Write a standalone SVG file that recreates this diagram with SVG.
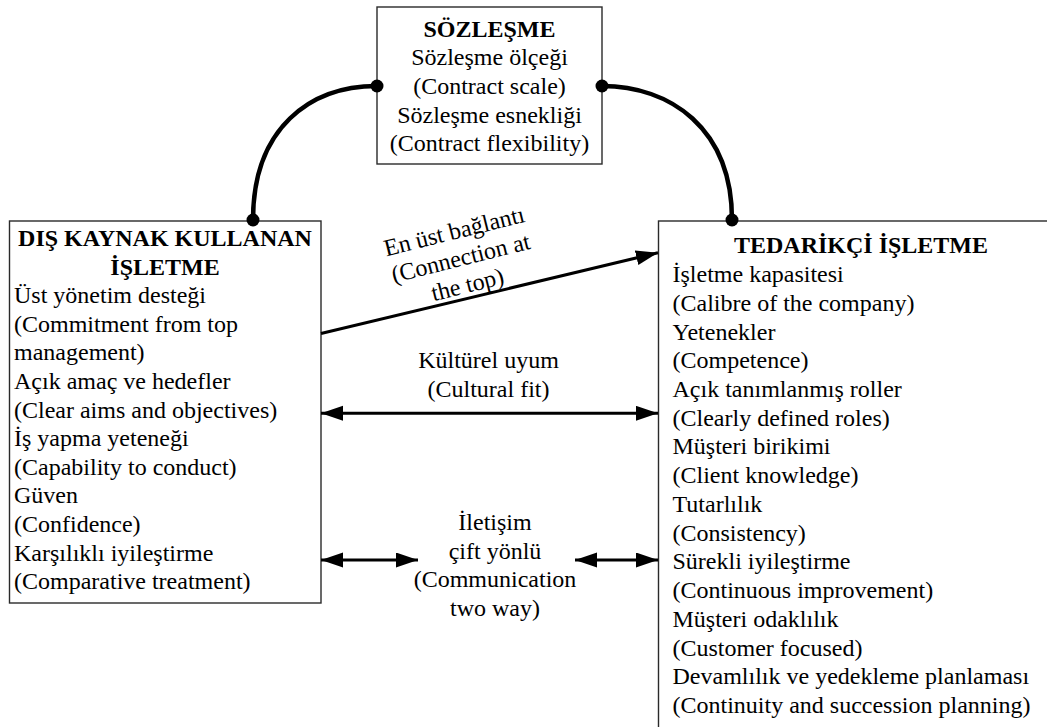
<svg xmlns="http://www.w3.org/2000/svg" width="1047" height="727" viewBox="0 0 1047 727">
  <style>
    .box { fill: #ffffff; stroke: #2a2a2a; stroke-width: 1.4; }
    .t { font-family: 'Liberation Serif', 'Times New Roman', serif; font-size: 24px; fill: #000; }
    .b { font-weight: bold; }
    .c { text-anchor: middle; }
    .link { fill: none; stroke: #000; stroke-width: 4.5; stroke-linecap: round; }
    .arrow { fill: none; stroke: #000; stroke-width: 3; }
    .dot { fill: #000; }
  </style>
  <defs>
    <marker id="head" markerUnits="userSpaceOnUse" markerWidth="23" markerHeight="16" refX="22" refY="7.5" orient="auto-start-reverse">
      <path d="M0,0 L22,7.5 L0,15 Z" fill="#000"/>
    </marker>
  </defs>
  <rect width="1047" height="727" fill="#ffffff"/>

  <!-- Contract node -->
  <g id="sozlesme">
    <rect class="box" x="377" y="7" width="225" height="157"/>
    <text class="t b c" x="489.5" y="36.5">SÖZLEŞME</text>
    <text class="t c" x="489.5" y="65.2">Sözleşme ölçeği</text>
    <text class="t c" x="489.5" y="93.9">(Contract scale)</text>
    <text class="t c" x="489.5" y="122.6">Sözleşme esnekliği</text>
    <text class="t c" x="489.5" y="151.3">(Contract flexibility)</text>
  </g>

  <!-- Outsourcing company node -->
  <g id="dis-kaynak">
    <rect class="box" x="9.5" y="221" width="311.5" height="382"/>
    <text class="t b c" x="165" y="246">DIŞ KAYNAK KULLANAN</text>
    <text class="t b c" x="165" y="274.6">İŞLETME</text>
    <text class="t" x="14" y="303.2">Üst yönetim desteği</text>
    <text class="t" x="14" y="331.8">(Commitment from top</text>
    <text class="t" x="14" y="360.4">management)</text>
    <text class="t" x="14" y="389">Açık amaç ve hedefler</text>
    <text class="t" x="14" y="417.6">(Clear aims and objectives)</text>
    <text class="t" x="14" y="446.2">İş yapma yeteneği</text>
    <text class="t" x="14" y="474.8">(Capability to conduct)</text>
    <text class="t" x="14" y="503.4">Güven</text>
    <text class="t" x="14" y="532">(Confidence)</text>
    <text class="t" x="14" y="560.6">Karşılıklı iyileştirme</text>
    <text class="t" x="14" y="589.2">(Comparative treatment)</text>
  </g>

  <!-- Supplier company node (box runs past the right and bottom edges) -->
  <g id="tedarikci">
    <rect class="box" x="658.5" y="221" width="420" height="530"/>
    <text class="t b c" x="861" y="253.3">TEDARİKÇİ İŞLETME</text>
    <text class="t" x="672.5" y="282">İşletme kapasitesi</text>
    <text class="t" x="672.5" y="310.7">(Calibre of the company)</text>
    <text class="t" x="672.5" y="339.5">Yetenekler</text>
    <text class="t" x="672.5" y="368.2">(Competence)</text>
    <text class="t" x="672.5" y="396.9">Açık tanımlanmış roller</text>
    <text class="t" x="672.5" y="425.7">(Clearly defined roles)</text>
    <text class="t" x="672.5" y="454.4">Müşteri birikimi</text>
    <text class="t" x="672.5" y="483.1">(Client knowledge)</text>
    <text class="t" x="672.5" y="511.8">Tutarlılık</text>
    <text class="t" x="672.5" y="540.6">(Consistency)</text>
    <text class="t" x="672.5" y="569.3">Sürekli iyileştirme</text>
    <text class="t" x="672.5" y="598">(Continuous improvement)</text>
    <text class="t" x="672.5" y="626.8">Müşteri odaklılık</text>
    <text class="t" x="672.5" y="655.5">(Customer focused)</text>
    <text class="t" x="672.5" y="684.2">Devamlılık ve yedekleme planlaması</text>
    <text class="t" x="672.5" y="713">(Continuity and succession planning)</text>
  </g>

  <!-- Connectors -->
  <g id="connectors">
    <path class="link" d="M377,86 C310,86 253,128 253,220"/>
    <path class="link" d="M602,86 C670,86 732,128 732,220"/>
    <circle class="dot" cx="377" cy="86" r="6.5"/>
    <circle class="dot" cx="253" cy="220" r="6.5"/>
    <circle class="dot" cx="602" cy="86" r="6.5"/>
    <circle class="dot" cx="732" cy="220" r="6.5"/>

    <line class="arrow" x1="321" y1="333.5" x2="658" y2="252.7" marker-end="url(#head)"/>
    <line class="arrow" x1="321" y1="413.3" x2="658" y2="413.3" marker-start="url(#head)" marker-end="url(#head)"/>
    <line class="arrow" x1="321" y1="560" x2="418" y2="560" marker-start="url(#head)" marker-end="url(#head)"/>
    <line class="arrow" x1="575" y1="560" x2="658" y2="560" marker-start="url(#head)" marker-end="url(#head)"/>

    <g id="label-top" transform="translate(456,239) rotate(-14)">
      <text class="t c" x="0" y="0">En üst bağlantı</text>
      <text class="t c" x="0" y="27.5">(Connection at</text>
      <text class="t c" x="0" y="55">the top)</text>
    </g>
    <g id="label-culture">
      <text class="t c" x="488.5" y="368">Kültürel uyum</text>
      <text class="t c" x="488.5" y="397">(Cultural fit)</text>
    </g>
    <g id="label-communication">
      <text class="t c" x="495" y="530">İletişim</text>
      <text class="t c" x="495" y="558.7">çift yönlü</text>
      <text class="t c" x="495" y="587.4">(Communication</text>
      <text class="t c" x="495" y="616">two way)</text>
    </g>
  </g>
</svg>
